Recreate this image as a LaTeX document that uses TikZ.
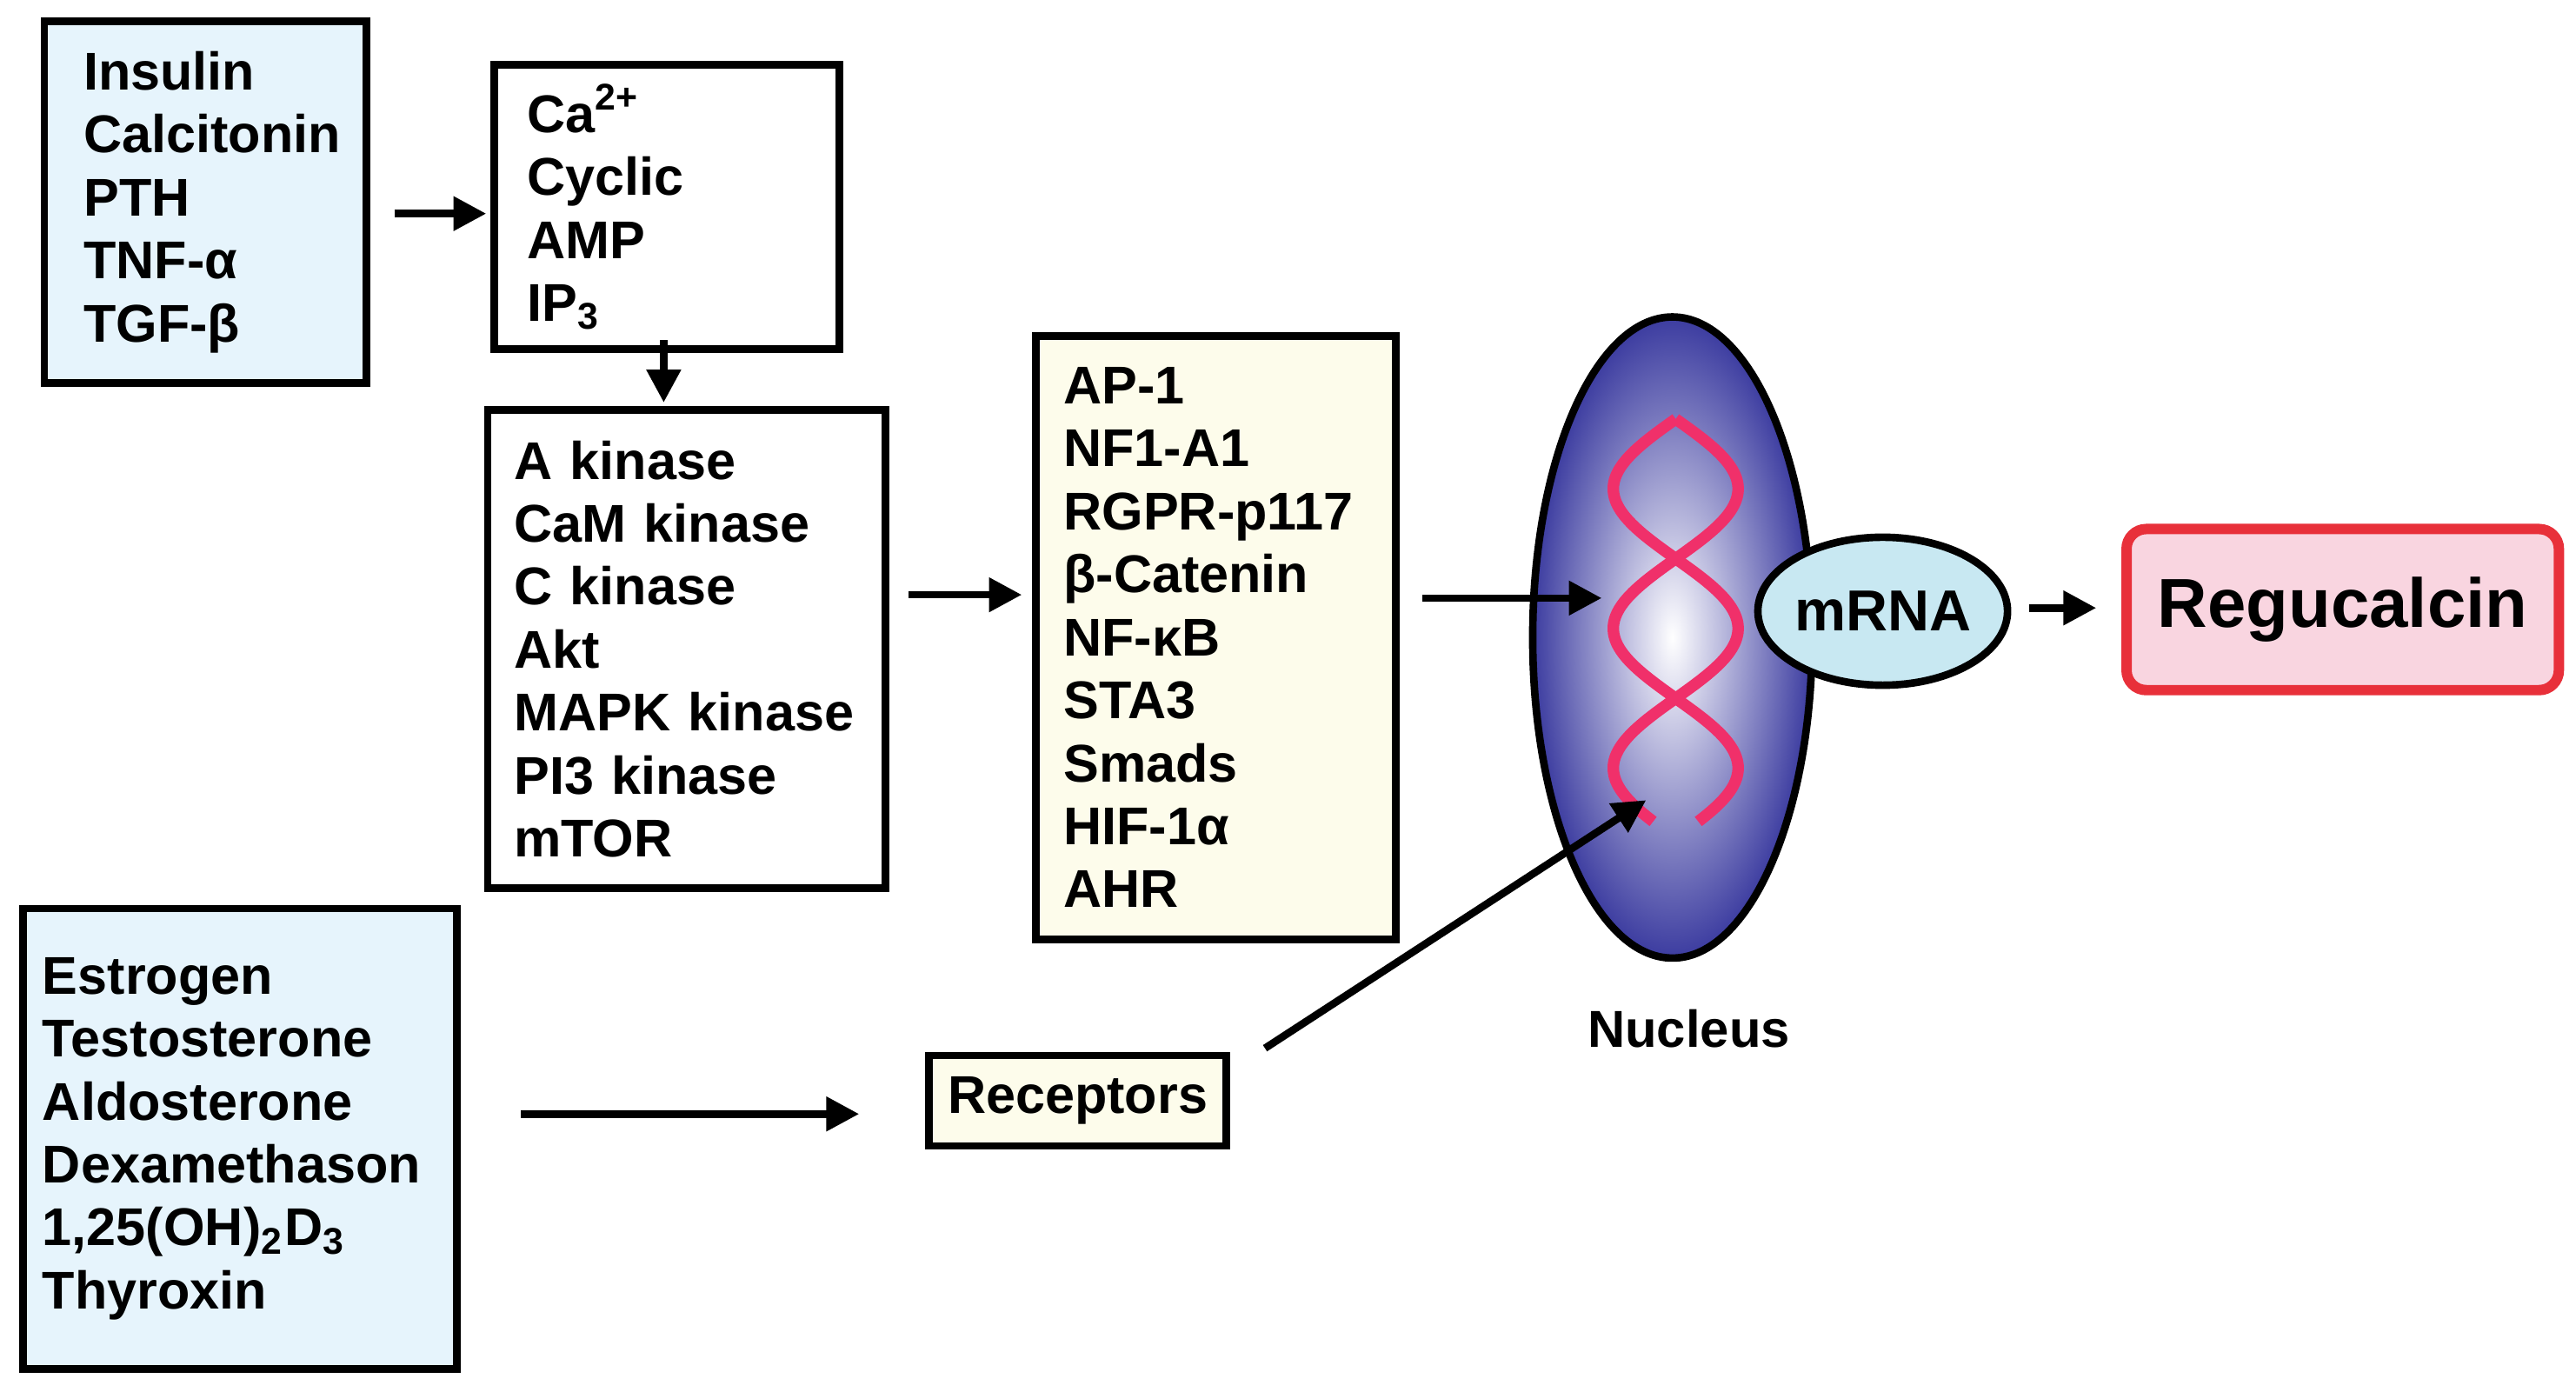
\documentclass[tikz,border=0pt]{standalone}
\usepackage{fontspec}
\setmainfont{Liberation Sans}
\usetikzlibrary{arrows.meta,shapes.geometric}
\definecolor{lblue}{HTML}{E6F4FC}
\definecolor{cream}{HTML}{FDFCEB}
\definecolor{nblue}{HTML}{3C3CA0}
\definecolor{mblue}{HTML}{C8E8F2}
\definecolor{rpink}{HTML}{F9D5E0}
\definecolor{rred}{HTML}{E8303A}
\definecolor{helix}{HTML}{F0306A}
\begin{document}
\begin{tikzpicture}[x=0.01cm,y=-0.01cm,
 box/.style={draw,line width=1.3pt,align=left,inner xsep=0.24cm,font=\bfseries\fontsize{9.2}{10.9}\selectfont,text width=#1},
 arr/.style={line width=1.3pt,-{Triangle[length=0.2cm,width=0.2cm]}}]
\useasboundingbox (0,0) rectangle (1568,847);
\node[box=1.48cm,fill=lblue,minimum width=1.96cm,minimum height=2.2cm] (b1) at (125,123) {Insulin\\Calcitonin\\PTH\\TNF-α\\TGF-β};
\node[box=1.7cm,fill=white,minimum width=2.1cm,minimum height=1.43cm,inner xsep=0.18cm] (b2) at (406,126) {Ca\textsuperscript{2+}\\Cyclic AMP\\IP\textsubscript{3}};
\node[box=2.1cm,fill=white,minimum width=2.4cm,minimum height=2.91cm,inner xsep=0.16cm] (b3) at (418,395) {A kinase\\CaM kinase\\C kinase\\Akt\\MAPK kinase\\PI3 kinase\\mTOR};
\node[box=1.85cm,fill=cream,minimum width=2.19cm,minimum height=3.67cm,inner xsep=0.16cm] (b4) at (740,388) {AP-1\\NF1-A1\\RGPR-p117\\β-Catenin\\NF-κB\\STA3\\Smads\\HIF-1α\\AHR};
\node[box=2.4cm,fill=lblue,minimum width=2.64cm,minimum height=2.8cm,inner xsep=0.12cm] (b5) at (146,693) {Estrogen\\Testosterone\\Aldosterone\\Dexamethason\\1,25(OH)\textsubscript{2}D\textsubscript{3}\\Thyroxin};
\node[draw,line width=1.3pt,fill=cream,minimum width=1.81cm,minimum height=0.55cm,inner xsep=0.1cm,font=\bfseries\fontsize{9.2}{11}\selectfont] (rec) at (656,670) {Receptors};
\node[ellipse,draw,line width=1.3pt,minimum width=1.7cm,minimum height=3.9cm,inner color=white,outer color=nblue] (nuc) at (1018,388) {};
\draw[helix,line width=2pt] plot[domain=0:245,samples=80,smooth] ({1020+38*sin(2.1176*\x)},{255+\x});
\draw[helix,line width=2pt] plot[domain=0:245,samples=80,smooth] ({1020-38*sin(2.1176*\x)},{255+\x});
\node[ellipse,draw,line width=1.3pt,fill=mblue,minimum width=1.5cm,minimum height=0.9cm,inner sep=0pt,font=\bfseries\fontsize{10}{12}\selectfont] (mrna) at (1146,372) {mRNA};
\node[draw=rred,line width=1.8pt,rounded corners=0.12cm,fill=rpink,minimum width=2.63cm,minimum height=0.98cm,font=\bfseries\fontsize{12}{14}\selectfont] (reg) at (1426,371) {Regucalcin};
\node[font=\bfseries\fontsize{9}{11}\selectfont] (nl) at (1028,626) {Nucleus};
\coordinate (a1) at (240,130); \coordinate (a2) at (296,130);
\draw[arr] (a1) -- (a2);
\coordinate (h1) at (404,207); \coordinate (h2) at (404,245);
\draw[arr] (h1) -- (h2);
\coordinate (c1) at (553,362); \coordinate (c2) at (622,362);
\draw[arr] (c1) -- (c2);
\coordinate (d1) at (866,364); \coordinate (d2) at (975,364);
\draw[arr] (d1) -- (d2);
\coordinate (e1) at (317,678); \coordinate (e2) at (523,678);
\draw[arr] (e1) -- (e2);
\coordinate (f1) at (770,638); \coordinate (f2) at (1002,487);
\draw[arr] (f1) -- (f2);
\coordinate (g1) at (1235,370); \coordinate (g2) at (1276,370);
\draw[arr] (g1) -- (g2);
\end{tikzpicture}
\end{document}
